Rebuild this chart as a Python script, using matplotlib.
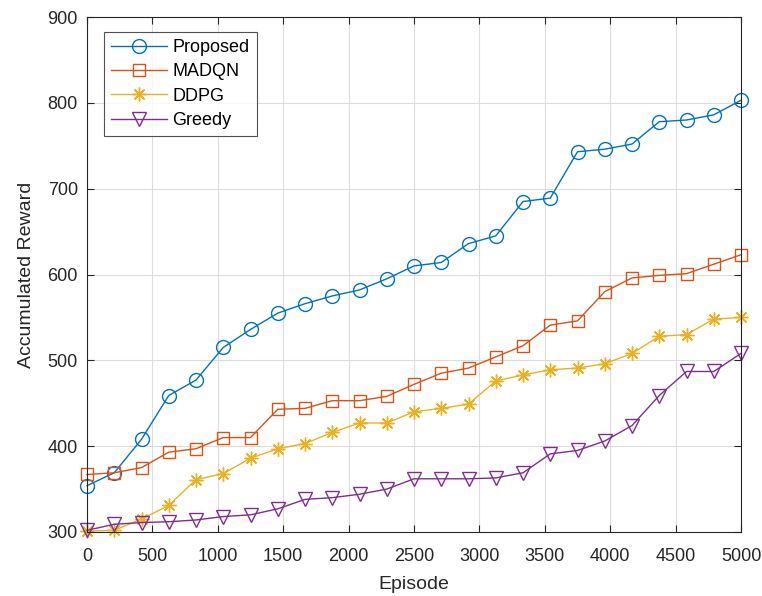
import matplotlib
matplotlib.use("Agg")
import matplotlib.pyplot as plt
import numpy as np

plt.rcParams['font.family'] = ['Liberation Sans', 'DejaVu Sans']

episodes = np.linspace(0, 5000, 25)
proposed = [354, 369, 408, 459, 477, 515, 536, 555, 566, 575, 582, 595, 610, 614, 636, 645,
            685, 689, 743, 746, 752, 778, 780, 786, 803]
madqn = [367, 369, 375, 393, 397, 410, 410, 443, 444, 453, 453, 458, 472, 485, 491, 504,
         517, 541, 546, 580, 596, 599, 601, 612, 623]
ddpg = [301, 302, 315, 331, 361, 368, 386, 397, 403, 416, 427, 427, 440, 444, 449, 476,
        483, 489, 491, 496, 508, 528, 530, 548, 550]
greedy = [302, 309, 311, 312, 314, 318, 320, 327, 338, 340, 344, 350, 362, 362, 362, 363,
          369, 391, 395, 406, 424, 459, 487, 487, 508]

labels = ['Proposed', 'MADQN', 'DDPG', 'Greedy']
colors = ['#0072BD', '#D95319', '#EDB120', '#7E2F8E']
markers = ['o', 's', (8, 2, 0), 'v']
msizes = [10, 8, 10, 10]

fig = plt.figure(figsize=(7.62, 5.96), dpi=100)
ax = fig.add_axes([87/762, 1-532/596, (741-87)/762, (532-17)/596])

for y, lab, c, m, ms in zip([proposed, madqn, ddpg, greedy], labels, colors, markers, msizes):
    ax.plot(episodes, y, color=c, marker=m, markersize=ms, markerfacecolor='none',
            markeredgecolor=c, markeredgewidth=1.0, linewidth=1.0, label=lab, clip_on=False)

ax.set_xlim(0, 5000)
ax.set_ylim(300, 900)
ax.set_xticks(np.arange(0, 5001, 500))
ax.set_yticks(np.arange(300, 901, 100))
ax.grid(True, color='#dddddd', linewidth=0.8)
ax.set_axisbelow(True)
ax.tick_params(direction='in', length=5, labelsize=13, colors='#262626', top=True, right=True,
               labeltop=False, labelright=False)
ax.tick_params(axis='x', pad=11.5)
ax.tick_params(axis='y', pad=6.5)
for s in ax.spines.values():
    s.set_color('#262626')
    s.set_linewidth(0.8)
ax.set_xlabel('Episode', fontsize=14, color='#262626', labelpad=8)
ax.set_ylabel('Accumulated Reward', fontsize=14, color='#262626', labelpad=9)

leg = ax.legend(loc='upper left', bbox_to_anchor=(17/654, 1-15/515), fontsize=13, frameon=True,
                fancybox=False, edgecolor='#262626', handlelength=3.1, borderpad=0.4,
                labelspacing=0.4, handletextpad=0.3, borderaxespad=0)
leg.get_frame().set_linewidth(0.8)

fig.savefig('out.png', dpi=100)
